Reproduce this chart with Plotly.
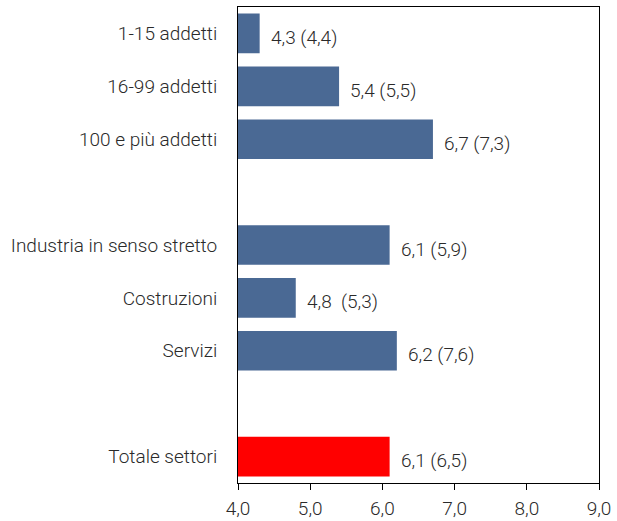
import plotly.graph_objects as go

categories = ["1-15 addetti", "16-99 addetti", "100 e più addetti", " ",
              "Industria in senso stretto", "Costruzioni", "Servizi", "  ",
              "Totale settori"]
values = [4.3, 5.4, 6.7, None, 6.1, 4.8, 6.2, None, 6.1]
labels = ["4,3 (4,4)", "5,4 (5,5)", "6,7 (7,3)", "",
          "6,1 (5,9)", "4,8  (5,3)", "6,2 (7,6)", "",
          "6,1 (6,5)"]
colors = ["#4A6994"] * 8 + ["#FF0000"]
tick_vals = [4, 5, 6, 7, 8, 9]

font_family = "Roboto"
text_color = "#2a2a2a"
fsize = 19

fig = go.Figure()
fig.add_trace(go.Bar(
    y=categories, x=values, orientation="h",
    marker=dict(color=colors, line=dict(width=0)),
    hoverinfo="skip",
))

for c, v, t in zip(categories, values, labels):
    if v is None:
        continue
    fig.add_annotation(x=v, y=c, text=t, showarrow=False, xanchor="left",
                       xshift=9, yshift=-4,
                       font=dict(family=font_family, size=fsize, color=text_color, weight=300))

fig.update_layout(
    width=617, height=521,
    margin=dict(l=238, r=18, t=7, b=38),
    paper_bgcolor="white", plot_bgcolor="white",
    separators=",.",
    bargap=0.25,
    showlegend=False,
    font=dict(family=font_family, size=fsize, color=text_color, weight=300),
)
fig.update_xaxes(
    range=[4, 9], tickvals=tick_vals, tickformat=".1f",
    automargin=False,
    showgrid=False, zeroline=False,
    showline=True, linecolor="black", linewidth=1, mirror=True,
    ticks="outside", ticklen=6, tickcolor="black",
    ticklabelstandoff=2,
    tickfont=dict(family=font_family, size=fsize, color=text_color, weight=300),
)
fig.update_yaxes(
    categoryorder="array", categoryarray=categories, autorange="reversed",
    automargin=False,
    showgrid=False, zeroline=False,
    showline=True, linecolor="black", linewidth=1, mirror=True,
    ticks="", ticklabelstandoff=16,
    tickfont=dict(family=font_family, size=fsize, color=text_color, weight=300),
)

fig.write_html("out.html")
